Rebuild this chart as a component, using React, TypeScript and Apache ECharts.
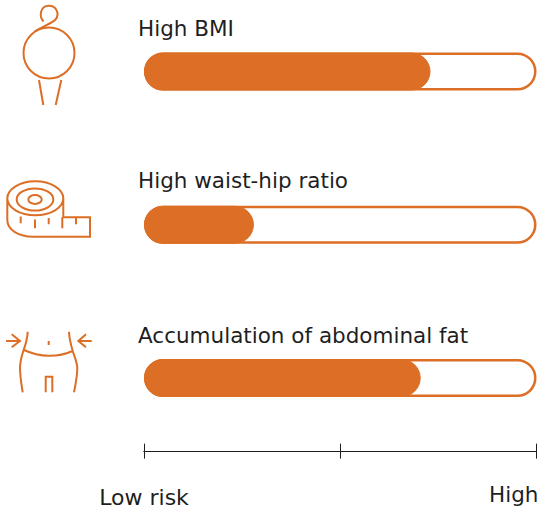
import React, { useEffect, useRef } from "react";
import * as echarts from "echarts";

const categories = ["High BMI", "High waist-hip ratio", "Accumulation of abdominal fat"];
const riskValues = [73, 28, 70.5];
const trackValues = [100, 100, 100];
const tickLabels: Record<number, string> = { 0: "Low risk", 50: "", 100: "High" };

const ORANGE = "#DC6E25";
const INK = "#1f1f1f";
const FONT = "'DejaVu Sans', sans-serif";

const bodyIcon =
  "M74.5 53 A25.5 25.5 0 1 1 23.5 53 A25.5 25.5 0 1 1 74.5 53 Z" +
  "M43.5 21.5 C38.5 16 40.5 5.8 48.7 5.8 C56.5 5.8 60 14 55.5 19.5 C52 23.5 43 26 34.5 31.5" +
  "M39 80 L43.3 105 M61.3 80 L55.7 105";
const tapeIcon =
  "M7.3 198.3 A28 17 0 1 1 63.3 198.3 A28 17 0 1 1 7.3 198.3 Z" +
  "M16.7 199.5 A18.3 11 0 1 1 53.3 199.5 A18.3 11 0 1 1 16.7 199.5 Z" +
  "M28.3 199.5 A6.7 4.5 0 1 1 41.7 199.5 A6.7 4.5 0 1 1 28.3 199.5 Z" +
  "M7.3 198.3 L7.3 220 C7.3 230 19 236.7 33 236.7 L90 236.7 L90 217.3 L63.3 217.3 L63.3 198.3" +
  "M20.7 216.5 L20.7 223.3 M35 219.5 L35 228.3 M48.7 218 L48.7 224.3 M62.3 217.3 L62.3 228.3 M76 217.3 L76 224.3";
const waistIcon =
  "M6 341 L20 341 M11.7 334.3 L20 341 L11.7 347.3" +
  "M91.7 341 L78.3 341 M86 334.3 L78.3 341 L86 347.3" +
  "M27.7 331.7 C27.5 338 25.5 345 23.3 351 C21 358 20 363 20 368 C20 376 21.5 385 22.7 392.3" +
  "M69 331.7 C69.2 338 71 345 72.7 351 C75 358 77.3 363 77.3 368 C77.3 376 75.5 385 74 392.3" +
  "M24 350 C40 357.5 58 357.5 72.7 351" +
  "M48.7 341 L48.7 345" +
  "M45.7 392.3 L45.7 376.7 L52.3 376.7 L52.3 392.3";

echarts.graphic.registerShape("bodyIcon", echarts.graphic.extendPath(bodyIcon, {}));
echarts.graphic.registerShape("tapeIcon", echarts.graphic.extendPath(tapeIcon, {}));
echarts.graphic.registerShape("waistIcon", echarts.graphic.extendPath(waistIcon, {}));

const iconStyle = { fill: "none", stroke: ORANGE, lineWidth: 2, lineCap: "butt", lineJoin: "miter" };

const scaleAxis = (inside: boolean, showLabel: boolean) => ({
  type: "value",
  position: "bottom",
  offset: -3,
  min: 0,
  max: 100,
  interval: 50,
  splitLine: { show: false },
  axisLine: { show: true, onZero: false, lineStyle: { color: INK, width: 1 } },
  axisTick: { show: true, inside, length: inside ? 8 : 7, lineStyle: { color: INK, width: 1 } },
  axisLabel: {
    show: showLabel,
    margin: 32,
    alignMinLabel: "center",
    alignMaxLabel: "right",
    formatter: (v: number) => {
      const text = tickLabels[v] ?? "";
      return v === 0 ? `{low|${text}}` : `{high|${text}}`;
    },
    rich: {
      low: { fontFamily: FONT, fontSize: 22, color: INK, padding: [3, 0, 0, 0] },
      high: { fontFamily: FONT, fontSize: 21.5, color: INK, padding: [0, -2, 0, 0] },
    },
  },
});

export default function App() {
  const ref = useRef<HTMLDivElement>(null);

  useEffect(() => {
    const chart = echarts.init(ref.current!, undefined, { renderer: "svg" });
    // Captions are lifted above each track by a per-row amount.
    const captionLift = [-35, -36, -35];
    chart.setOption({
      animation: false,
      backgroundColor: "#ffffff",
      grid: {
        left: 144,
        top: -5.1,
        width: 392.5,
        height: 459.75,
        containLabel: false,
        outerBoundsMode: "none",
      },
      xAxis: [scaleAxis(false, true), scaleAxis(true, false)],
      yAxis: {
        type: "category",
        inverse: true,
        data: categories,
        axisLine: { show: false },
        axisTick: { show: false },
        axisLabel: { show: false },
      },
      series: [
        {
          type: "bar",
          name: "Scale",
          data: trackValues.map((value, i) => ({
            value,
            label: { position: [-6, captionLift[i]] },
          })),
          barWidth: 38,
          barGap: "-100%",
          itemStyle: { color: "#ffffff", borderColor: ORANGE, borderWidth: 2.5, borderRadius: 19 },
          label: {
            show: true,
            formatter: "{b}",
            fontFamily: FONT,
            fontSize: 21.5,
            color: INK,
          },
          silent: true,
        },
        {
          type: "bar",
          name: "Risk",
          data: riskValues,
          barWidth: 38,
          barGap: "-100%",
          itemStyle: { color: ORANGE, borderColor: ORANGE, borderWidth: 1, borderRadius: 19 },
          silent: true,
        },
      ],
      graphic: [
        { type: "bodyIcon", style: iconStyle },
        { type: "tapeIcon", style: iconStyle },
        { type: "waistIcon", style: iconStyle },
      ],
    });
    return () => chart.dispose();
  }, []);

  return <div ref={ref} style={{ position: "fixed", left: 0, top: 0, width: 538, height: 510 }} />;
}
